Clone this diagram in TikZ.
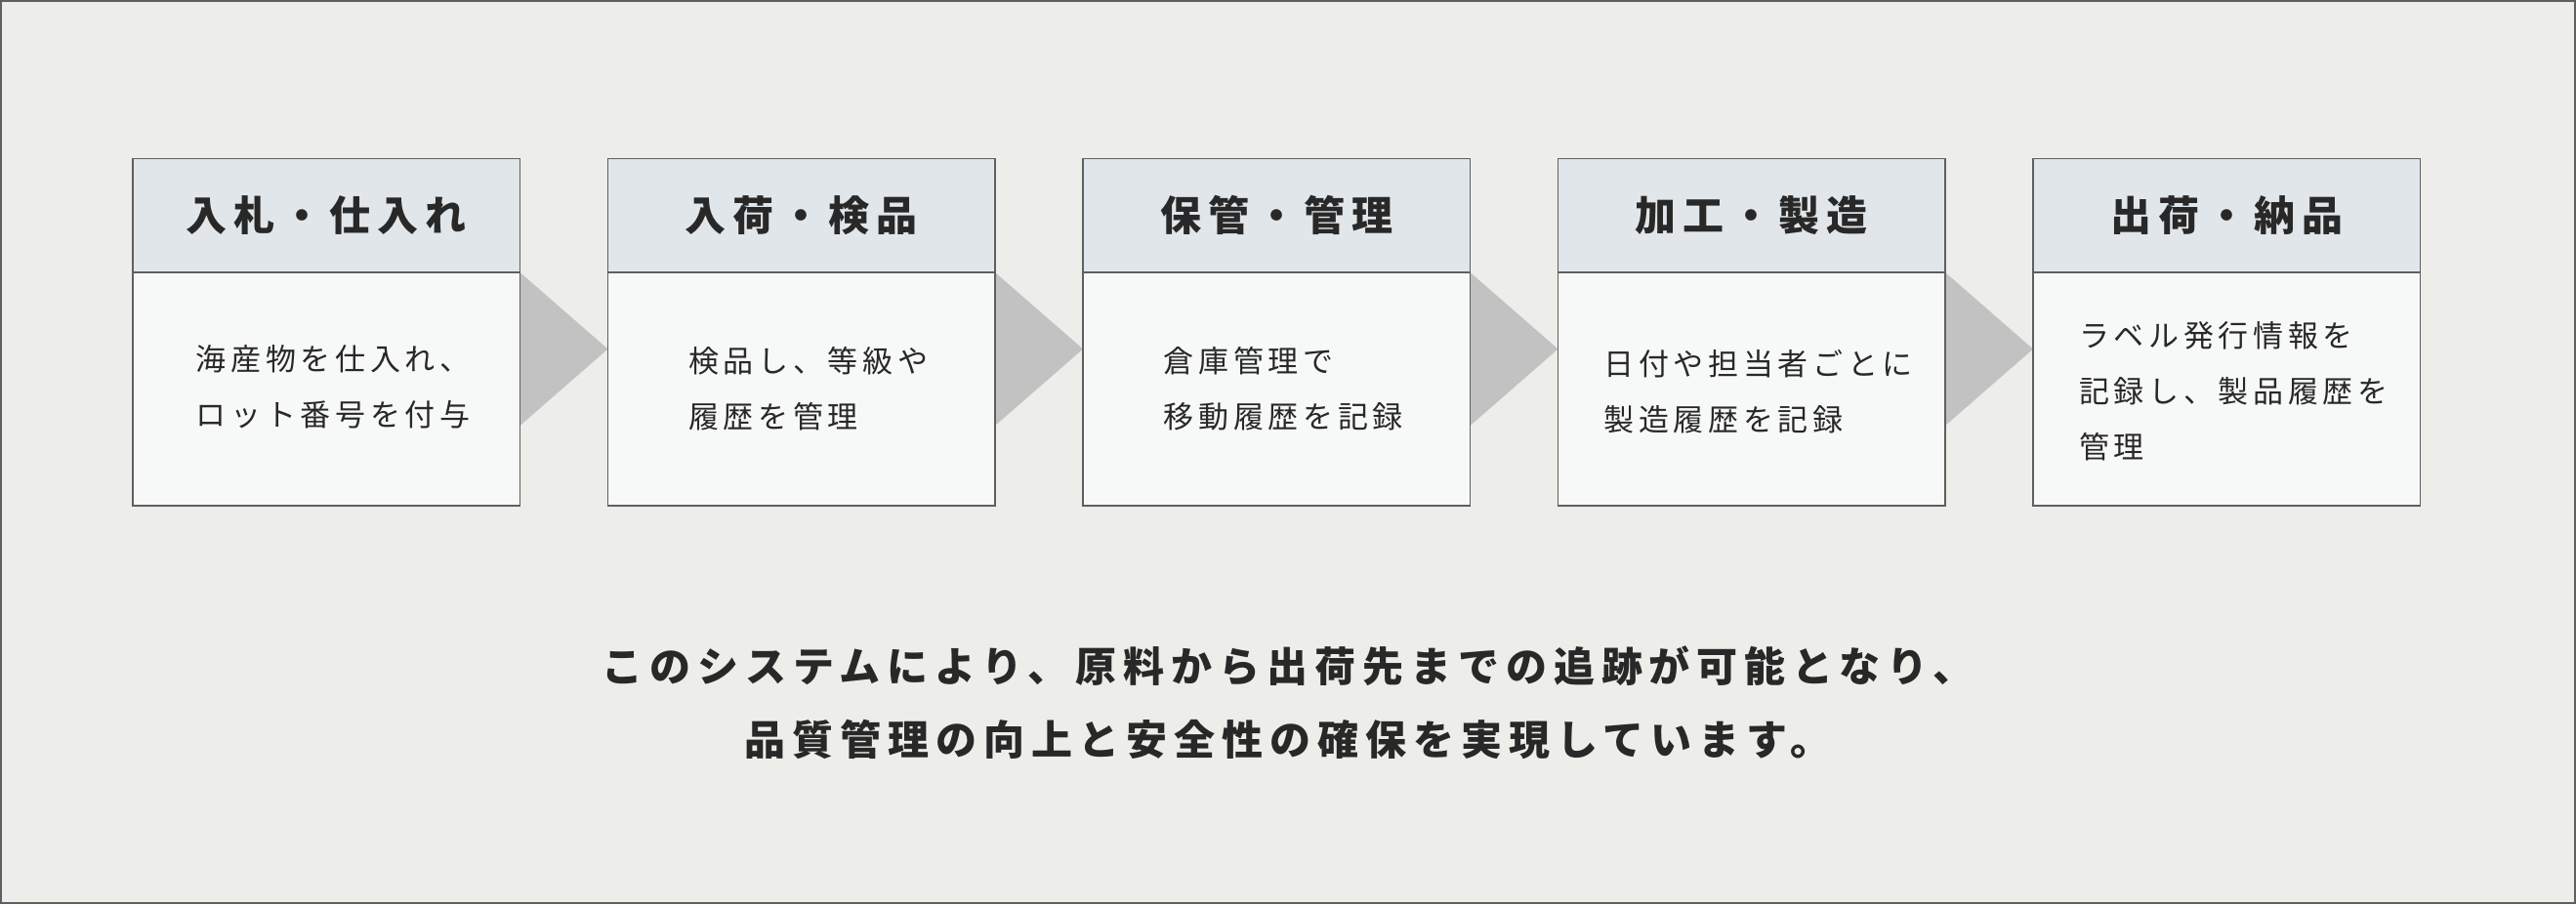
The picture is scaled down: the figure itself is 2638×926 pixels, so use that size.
\documentclass[tikz,border=0pt]{standalone}
\usepackage{fontspec}
\newfontfamily\jptitle[LetterSpace=16.5]{Noto Sans CJK JP}
\newfontfamily\jpbody[LetterSpace=15]{Noto Sans CJK JP}
\usetikzlibrary{calc}
\definecolor{bgc}{RGB}{237,237,233}
\definecolor{headc}{RGB}{225,230,234}
\definecolor{bodyc}{RGB}{247,249,248}
\definecolor{edgec}{RGB}{95,95,95}
\definecolor{arrowc}{RGB}{194,194,194}
\definecolor{textc}{RGB}{40,40,40}
\tikzset{
  headbox/.style={draw=edgec, line width=1.5pt, fill=headc, minimum width=396.5pt, minimum height=116.5pt, inner sep=0pt, text=textc, font=\jptitle\bfseries\fontsize{42}{50}\selectfont},
  bodybox/.style={draw=edgec, line width=1.5pt, fill=bodyc, minimum width=396.5pt, minimum height=239pt, inner sep=0pt},
  bodytext/.style={inner sep=0pt, text=textc, align=left, font=\jpbody\fontsize{31}{57}\selectfont},
  flowarrow/.style={fill=arrowc, draw=none},
  summary/.style={text=textc, align=center, font=\jptitle\bfseries\fontsize{42}{75}\selectfont, inner sep=0pt}
}
\begin{document}
\begin{tikzpicture}[x=1pt,y=-1pt]
\useasboundingbox (0,0) rectangle (2638,926);
\fill[bgc] (0,0) rectangle (2638,926);
\draw[edgec, line width=2pt] (1,1) rectangle (2637,925);

% arrows (drawn first, under boxes)
\foreach \i/\l in {1/136,2/622.5,3/1109,4/1595.5}{
  \pgfmathsetmacro{\r}{\l+396.5}
  \pgfmathsetmacro{\t}{\l+486.5}
  \coordinate (a\i top) at (\r,279);
  \coordinate (a\i bot) at (\r,436);
  \coordinate (a\i tip) at (\t,357.5);
  \fill[flowarrow] (a\i top) -- (a\i tip) -- (a\i bot) -- cycle;
}

\node[headbox] (h1) at (334.25,220.75) {入札・仕入れ};
\node[bodybox] (b1) at (334.25,398.5) {};
\node[bodytext] (t1) at ($(b1.center)+(7,-2)$) {海産物を仕入れ、\\ロット番号を付与};

\node[headbox] (h2) at (820.75,220.75) {入荷・検品};
\node[bodybox] (b2) at (820.75,398.5) {};
\node[bodytext] (t2) at ($(b2.center)+(7,0)$) {検品し、等級や\\履歴を管理};

\node[headbox] (h3) at (1307.25,220.75) {保管・管理};
\node[bodybox] (b3) at (1307.25,398.5) {};
\node[bodytext] (t3) at ($(b3.center)+(7,0)$) {倉庫管理で\\移動履歴を記録};

\node[headbox] (h4) at (1793.75,220.75) {加工・製造};
\node[bodybox] (b4) at (1793.75,398.5) {};
\node[bodytext] (t4) at ($(b4.center)+(7,3)$) {日付や担当者ごとに\\製造履歴を記録};

\node[headbox] (h5) at (2280.25,220.75) {出荷・納品};
\node[bodybox] (b5) at (2280.25,398.5) {};
\node[bodytext] (t5) at ($(b5.center)+(7,2)$) {ラベル発行情報を\\記録し、製品履歴を\\管理};

\node[summary] (sum) at (1319,719.5) {このシステムにより、原料から出荷先までの追跡が可能となり、\\品質管理の向上と安全性の確保を実現しています。};
\end{tikzpicture}
\end{document}
